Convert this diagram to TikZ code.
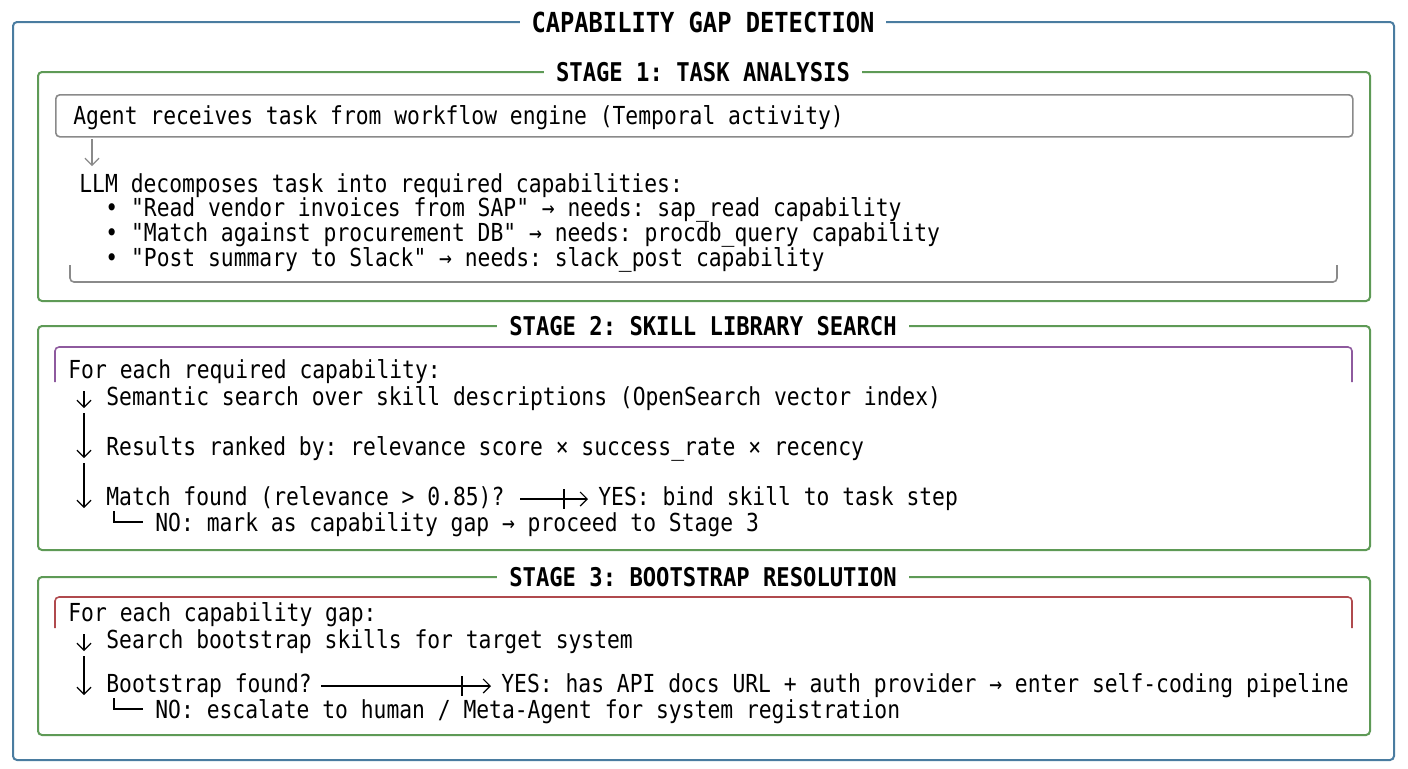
\documentclass[tikz,border=0pt]{standalone}
\usepackage{fontspec}
\newfontfamily\mono[FakeStretch=0.86]{DejaVu Sans Mono}
\usetikzlibrary{arrows.meta}
\definecolor{outerblue}{HTML}{4A7CA0}
\definecolor{stagegreen}{HTML}{5E9A56}
\definecolor{boxgray}{HTML}{8A8A8A}
\definecolor{purp}{HTML}{8E5A9E}
\definecolor{redb}{HTML}{B04A4E}
\tikzset{
  txt/.style={anchor=base west, inner sep=0pt, font=\mono\fontsize{12.4}{14}\selectfont\frenchspacing, text=black},
  stagetitle/.style={fill=white, inner xsep=6pt, inner ysep=1pt, font=\mono\bfseries\fontsize{12.9}{14}\selectfont\frenchspacing},
  maintitle/.style={fill=white, inner xsep=6pt, inner ysep=1pt, font=\mono\bfseries\fontsize{13.8}{15}\selectfont\frenchspacing},
  flow/.style={line width=0.6pt, -{Straight Barb[length=3.5pt,width=7pt]}},
  plain/.style={line width=0.6pt},
  outerframe/.style={draw=outerblue, line width=1pt, rounded corners=2pt},
  stageframe/.style={draw=stagegreen, line width=1pt, rounded corners=2pt},
}
\begin{document}
\begin{tikzpicture}[x=0.5pt,y=-0.5pt]
\useasboundingbox (0,0) rectangle (1408,768);
% outer frame
\draw[outerframe] (13,22) rectangle (1394,760);
\node[maintitle] (title) at (703,22) {CAPABILITY GAP DETECTION};

% ---------- Stage 1
\draw[stageframe] (38,72) rectangle (1370,301);
\node[stagetitle] (s1) at (703,72) {STAGE 1: TASK ANALYSIS};
\node[draw=boxgray, line width=0.8pt, rounded corners=2pt, minimum width=648.5pt, minimum height=21pt, anchor=north west, inner sep=0pt] (recv) at (55,94) {};
\node[txt] (agent) at (73,124) {Agent receives task from workflow engine (Temporal activity)};
\node[txt] (llm) at (79,192) {LLM decomposes task into required capabilities:};
\node[txt] (b1) at (105,216) {• "Read vendor invoices from SAP" → needs: sap\_read capability};
\node[txt] (b2) at (105,241) {• "Match against procurement DB" → needs: procdb\_query capability};
\node[txt] (b3) at (105,266) {• "Post summary to Slack" → needs: slack\_post capability};
\coordinate (g1) at (92,139); \coordinate (g2) at (92,166);
\draw[flow, boxgray] (g1) -- (g2);
\draw[boxgray, line width=0.8pt, rounded corners=2pt] (70,265) -- (70,282) -- (1337,282) -- (1337,265);

% ---------- Stage 2
\draw[stageframe] (38,326) rectangle (1370,550);
\node[stagetitle] (s2) at (703,326) {STAGE 2: SKILL LIBRARY SEARCH};
\draw[purp, line width=0.8pt, rounded corners=2pt] (55,382) -- (55,347) -- (1352,347) -- (1352,382);
\node[txt] (foreach2) at (68,378) {For each required capability:};
\node[txt] (sem) at (106,405) {Semantic search over skill descriptions (OpenSearch vector index)};
\node[txt] (rank) at (106,455) {Results ranked by: relevance score × success\_rate × recency};
\node[txt] (match) at (106,505) {Match found (relevance > 0.85)?};
\node[txt] (yes2) at (598,505) {YES: bind skill to task step};
\node[txt] (no2) at (155,531) {NO: mark as capability gap → proceed to Stage 3};
\coordinate (a2a) at (84,391); \coordinate (a2b) at (84,408);
\coordinate (a2c) at (84,413); \coordinate (a2d) at (84,458);
\coordinate (a2e) at (84,463); \coordinate (a2f) at (84,508);
\draw[flow] (a2a) -- (a2b);
\draw[flow] (a2c) -- (a2d);
\draw[flow] (a2e) -- (a2f);
\coordinate (h2a) at (520,499); \coordinate (h2b) at (588,499);
\draw[flow] (h2a) -- (h2b);
\draw[plain] (564,489) -- (564,509);
\draw[plain] (114,511) -- (114,522) -- (143,522);

% ---------- Stage 3
\draw[stageframe] (38,577) rectangle (1370,735);
\node[stagetitle] (s3) at (703,577) {STAGE 3: BOOTSTRAP RESOLUTION};
\draw[redb, line width=0.8pt, rounded corners=2pt] (55,628) -- (55,597) -- (1352,597) -- (1352,628);
\node[txt] (foreach3) at (68,621) {For each capability gap:};
\node[txt] (search) at (106,648) {Search bootstrap skills for target system};
\node[txt] (boot) at (106,692) {Bootstrap found?};
\node[txt] (yes3) at (501,692) {YES: has API docs URL + auth provider → enter self-coding pipeline};
\node[txt] (no3) at (155,718) {NO: escalate to human / Meta-Agent for system registration};
\coordinate (a3a) at (84,634); \coordinate (a3b) at (84,651);
\coordinate (a3c) at (84,656); \coordinate (a3d) at (84,695);
\draw[flow] (a3a) -- (a3b);
\draw[flow] (a3c) -- (a3d);
\coordinate (h3a) at (321,686); \coordinate (h3b) at (491,686);
\draw[flow] (h3a) -- (h3b);
\draw[plain] (462,676) -- (462,696);
\draw[plain] (114,698) -- (114,709) -- (143,709);
\end{tikzpicture}
\end{document}
